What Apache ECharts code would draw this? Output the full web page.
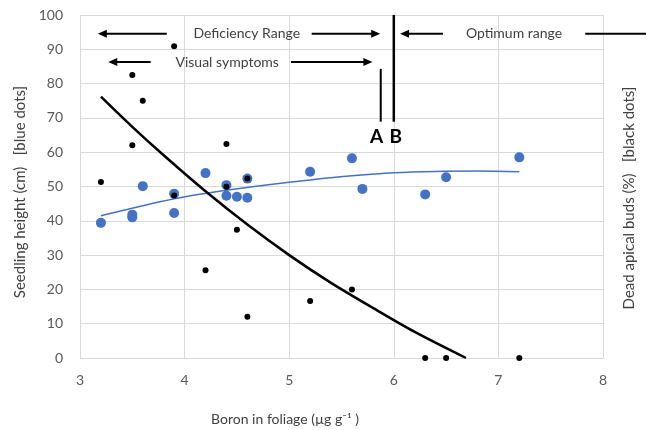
<!DOCTYPE html>
<html>
<head>
<meta charset="utf-8">
<script src="https://cdn.jsdelivr.net/npm/echarts@6/dist/echarts.min.js"></script>
<style>
  html, body { margin: 0; padding: 0; background: #fff; }
  #chart { width: 646px; height: 430px; }
</style>
</head>
<body>
<div id="chart"></div>
<script>
// Seedling height (blue) and dead apical buds (black) against boron in foliage
const xTicks = [3, 4, 5, 6, 7, 8];
const yTicks = [0, 10, 20, 30, 40, 50, 60, 70, 80, 90, 100];

const heightPoints = [
  [3.2, 39.4], [3.5, 41.0], [3.5, 41.8], [3.6, 50.1], [3.9, 47.9], [3.9, 42.3],
  [4.2, 53.9], [4.4, 50.4], [4.4, 47.3], [4.5, 47.0], [4.6, 52.3], [4.6, 46.7],
  [5.2, 54.3], [5.6, 58.2], [5.7, 49.3], [6.3, 47.7], [6.5, 52.7], [7.2, 58.5]
];
// fitted trend for seedling height
const heightTrend = [
  [3.2, 41.5], [3.6, 44.4], [4.0, 47.0], [4.4, 48.9], [4.8, 50.5], [5.2, 51.9],
  [5.6, 53.1], [6.0, 54.0], [6.4, 54.4], [6.8, 54.5], [7.2, 54.3]
];

const deadBudPoints = [
  [3.2, 51.3], [3.5, 82.5], [3.5, 62.0], [3.6, 75.0], [3.9, 90.9], [3.9, 47.4],
  [4.2, 25.6], [4.4, 62.4], [4.4, 49.9], [4.5, 37.4], [4.6, 52.3], [4.6, 12.0],
  [5.2, 16.6], [5.6, 20.0], [6.3, 0], [6.5, 0], [7.2, 0]
];
// fitted trend for dead apical buds
const deadBudTrend = [
  [3.2, 76.2], [3.5, 67.4], [3.8, 59.1], [4.2, 48.6], [4.6, 38.9], [5.0, 30.0],
  [5.4, 21.9], [5.8, 14.6], [6.2, 7.6], [6.69, 0]
];

// Range markers in data units
const limitA = 5.875;
const limitB = 6.0;

const FONT = 'Lato, "Open Sans", sans-serif';
const GRID = '#d9d9d9';

const chart = echarts.init(document.getElementById('chart'), null, { renderer: 'canvas' });

chart.setOption({
  animation: false,
  backgroundColor: '#ffffff',
  grid: { left: 80, top: 15, width: 523, height: 343 },
  xAxis: {
    type: 'value', min: xTicks[0], max: xTicks[xTicks.length - 1], interval: 1,
    axisLine: { show: false }, axisTick: { show: false },
    splitLine: { show: true, lineStyle: { color: GRID, width: 1 } },
    axisLabel: { color: '#595959', fontFamily: FONT, fontSize: 14, margin: 15 }
  },
  yAxis: [
    {
      type: 'value', min: yTicks[0], max: yTicks[yTicks.length - 1], interval: 10,
      axisLine: { show: false }, axisTick: { show: false },
      splitLine: { show: true, lineStyle: { color: GRID, width: 1 } },
      axisLabel: { color: '#595959', fontFamily: FONT, fontSize: 14, margin: 17 }
    },
    {
      type: 'value', min: yTicks[0], max: yTicks[yTicks.length - 1], interval: 10,
      position: 'right',
      axisLine: { show: false }, axisTick: { show: false },
      splitLine: { show: false }, axisLabel: { show: false }
    }
  ],
  series: [
    {
      type: 'line', data: heightTrend, smooth: 0.3, symbol: 'none', yAxisIndex: 0,
      lineStyle: { color: '#4472c4', width: 1.5 }, z: 2
    },
    {
      type: 'scatter', data: heightPoints, symbolSize: 10, yAxisIndex: 0,
      itemStyle: { color: '#4472c4', opacity: 1 }, z: 3
    },
    {
      type: 'line', data: deadBudTrend, smooth: 0.3, symbol: 'none', yAxisIndex: 1,
      lineStyle: { color: '#000000', width: 2.5 }, z: 4
    },
    {
      type: 'scatter', data: deadBudPoints, symbolSize: 6, yAxisIndex: 1,
      itemStyle: { color: '#000000', opacity: 1 }, z: 5
    }
  ]
});

// Annotations positioned in data space
function px(x, y) { return chart.convertToPixel({ gridIndex: 0 }, [x, y]); }

function arrow(x1, x2, y, head) {
  // line from x1 to x2 with a filled triangular head at x2
  const a = px(x1, y), b = px(x2, y);
  const dir = b[0] > a[0] ? 1 : -1;
  const hl = 9, hw = 4;
  const els = [{
    type: 'line', silent: true,
    shape: { x1: a[0], y1: a[1], x2: b[0] - dir * (head ? hl - 1 : 0), y2: b[1] },
    style: { stroke: '#000', lineWidth: 2 }
  }];
  if (head) {
    els.push({
      type: 'polygon', silent: true,
      shape: { points: [[b[0], b[1]], [b[0] - dir * hl, b[1] - hw], [b[0] - dir * hl, b[1] + hw]] },
      style: { fill: '#000' }
    });
  }
  return els;
}

function label(text, x, y, font, color) {
  const p = px(x, y);
  return {
    type: 'text', silent: true, x: p[0], y: p[1],
    style: {
      text: text, fill: color || '#404040', font: font || ('14px ' + FONT),
      align: 'center', verticalAlign: 'middle'
    }
  };
}

function vline(x, y1, y2, w) {
  const a = px(x, y1), b = px(x, y2);
  return {
    type: 'line', silent: true,
    shape: { x1: a[0], y1: a[1], x2: b[0], y2: b[1] },
    style: { stroke: '#000', lineWidth: w }
  };
}

const yDef = 94.5, yVis = 86.3;
const graphics = [].concat(
  arrow(3.83, 3.17, yDef, true),
  arrow(5.215, 5.87, yDef, true),
  arrow(3.676, 3.27, yVis, true),
  arrow(5.017, 5.795, yVis, true),
  arrow(6.47, 6.06, yDef, true),
  arrow(7.83, 8.45, yDef, false),
  [
    vline(limitB, 100, 68.9, 2.5),
    vline(limitA, 84.3, 68.9, 2),
    label('Deficiency Range', 4.594, yDef),
    label('Visual symptoms', 4.407, yVis),
    label('Optimum range', 7.149, yDef),
    label('A', 5.836, 64.5, 'bold 19px ' + FONT, '#000'),
    label('B', 6.018, 64.4, 'bold 19px ' + FONT, '#000'),
    {
      type: 'text', silent: true, x: 20, y: 192, rotation: Math.PI / 2,
      style: { text: 'Seedling height (cm)   [blue dots]', fill: '#404040', font: '15px ' + FONT, align: 'center', verticalAlign: 'middle' }
    },
    {
      type: 'text', silent: true, x: 629, y: 198, rotation: Math.PI / 2,
      style: { text: 'Dead apical buds (%)   [black dots]', fill: '#404040', font: '15px ' + FONT, align: 'center', verticalAlign: 'middle' }
    },
    {
      type: 'text', silent: true, x: 285, y: 419,
      style: { text: 'Boron in foliage (µg g⁻¹ )', fill: '#404040', font: '14px ' + FONT, align: 'center', verticalAlign: 'middle' }
    }
  ]
);

chart.setOption({ graphic: graphics });
</script>
</body>
</html>
